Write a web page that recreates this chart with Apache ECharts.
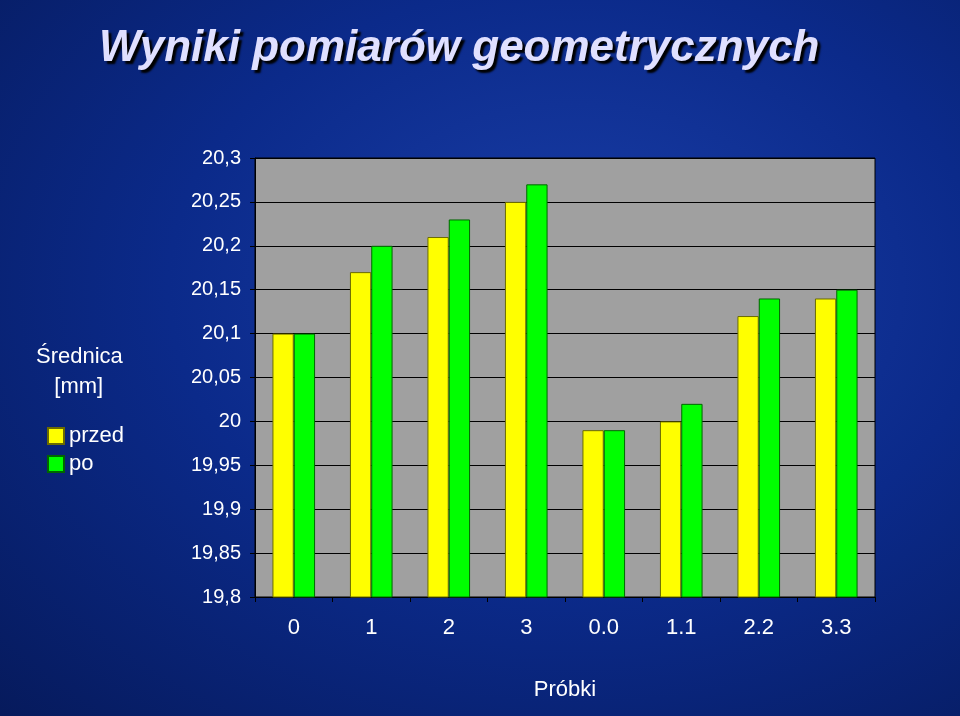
<!DOCTYPE html>
<html><head><meta charset="utf-8">
<script src="https://cdn.jsdelivr.net/npm/echarts@6/dist/echarts.min.js"></script>
<style>html,body{margin:0;padding:0;}#c{width:960px;height:716px;background:radial-gradient(ellipse at 60% 40%,#1a3ea8 0%,#0b2a8a 50%,#061a5c 100%);}</style>
</head><body><div id="c"></div>
<script>
const categories=['0','1','2','3','0.0','1.1','2.2','3.3'];
const przed=[20.1,20.17,20.21,20.25,19.99,20.0,20.12,20.14];
const po=[20.1,20.2,20.23,20.27,19.99,20.02,20.14,20.15];
const chart=echarts.init(document.getElementById('c'));
const fmt=v=>String(+v.toFixed(2)).replace('.',',');
chart.setOption({
  title:{text:'Wyniki pomiarów geometrycznych',left:94,top:22,
    textStyle:{color:'#e0e0ff',fontSize:44,fontStyle:'italic',fontWeight:'bold',fontFamily:'Liberation Sans',
    textShadowColor:'#000',textShadowOffsetX:3,textShadowOffsetY:3,textShadowBlur:2}},
  legend:{orient:'vertical',left:42,top:420,itemWidth:16,itemHeight:16,itemGap:6,icon:'rect',
    textStyle:{color:'#fff',fontSize:22,fontFamily:'Liberation Sans'},data:['przed','po']},
  graphic:[{type:'text',left:36,top:342,style:{text:'Średnica\n   [mm]',fill:'#fff',fontSize:22,lineHeight:30,fontFamily:'Liberation Sans'}}],
  grid:{left:255,right:85,top:158,bottom:119,show:true,backgroundColor:'#a0a0a0',borderColor:'#000',borderWidth:1},
  xAxis:{type:'category',data:categories,name:'Próbki',nameLocation:'middle',nameGap:82,
    nameTextStyle:{color:'#fff',fontSize:22,fontFamily:'Liberation Sans'},
    axisLine:{lineStyle:{color:'#000'}},axisTick:{show:true,lineStyle:{color:'#000'}},
    axisLabel:{color:'#fff',fontSize:22,margin:20,fontFamily:'Liberation Sans'}},
  yAxis:{type:'value',min:19.8,max:20.3,interval:0.05,
    axisLine:{show:true,lineStyle:{color:'#000'}},axisTick:{show:true,lineStyle:{color:'#000'}},
    splitLine:{lineStyle:{color:'#000'}},
    axisLabel:{color:'#fff',fontSize:20,margin:14,formatter:fmt,fontFamily:'Liberation Sans'}},
  series:[
    {name:'przed',type:'bar',data:przed,barGap:'0%',barCategoryGap:'45%',
     itemStyle:{color:'#ffff00',borderColor:'#6b6b00',borderWidth:1}},
    {name:'po',type:'bar',data:po,
     itemStyle:{color:'#00ff00',borderColor:'#006600',borderWidth:1}}
  ]
});
</script></body></html>
